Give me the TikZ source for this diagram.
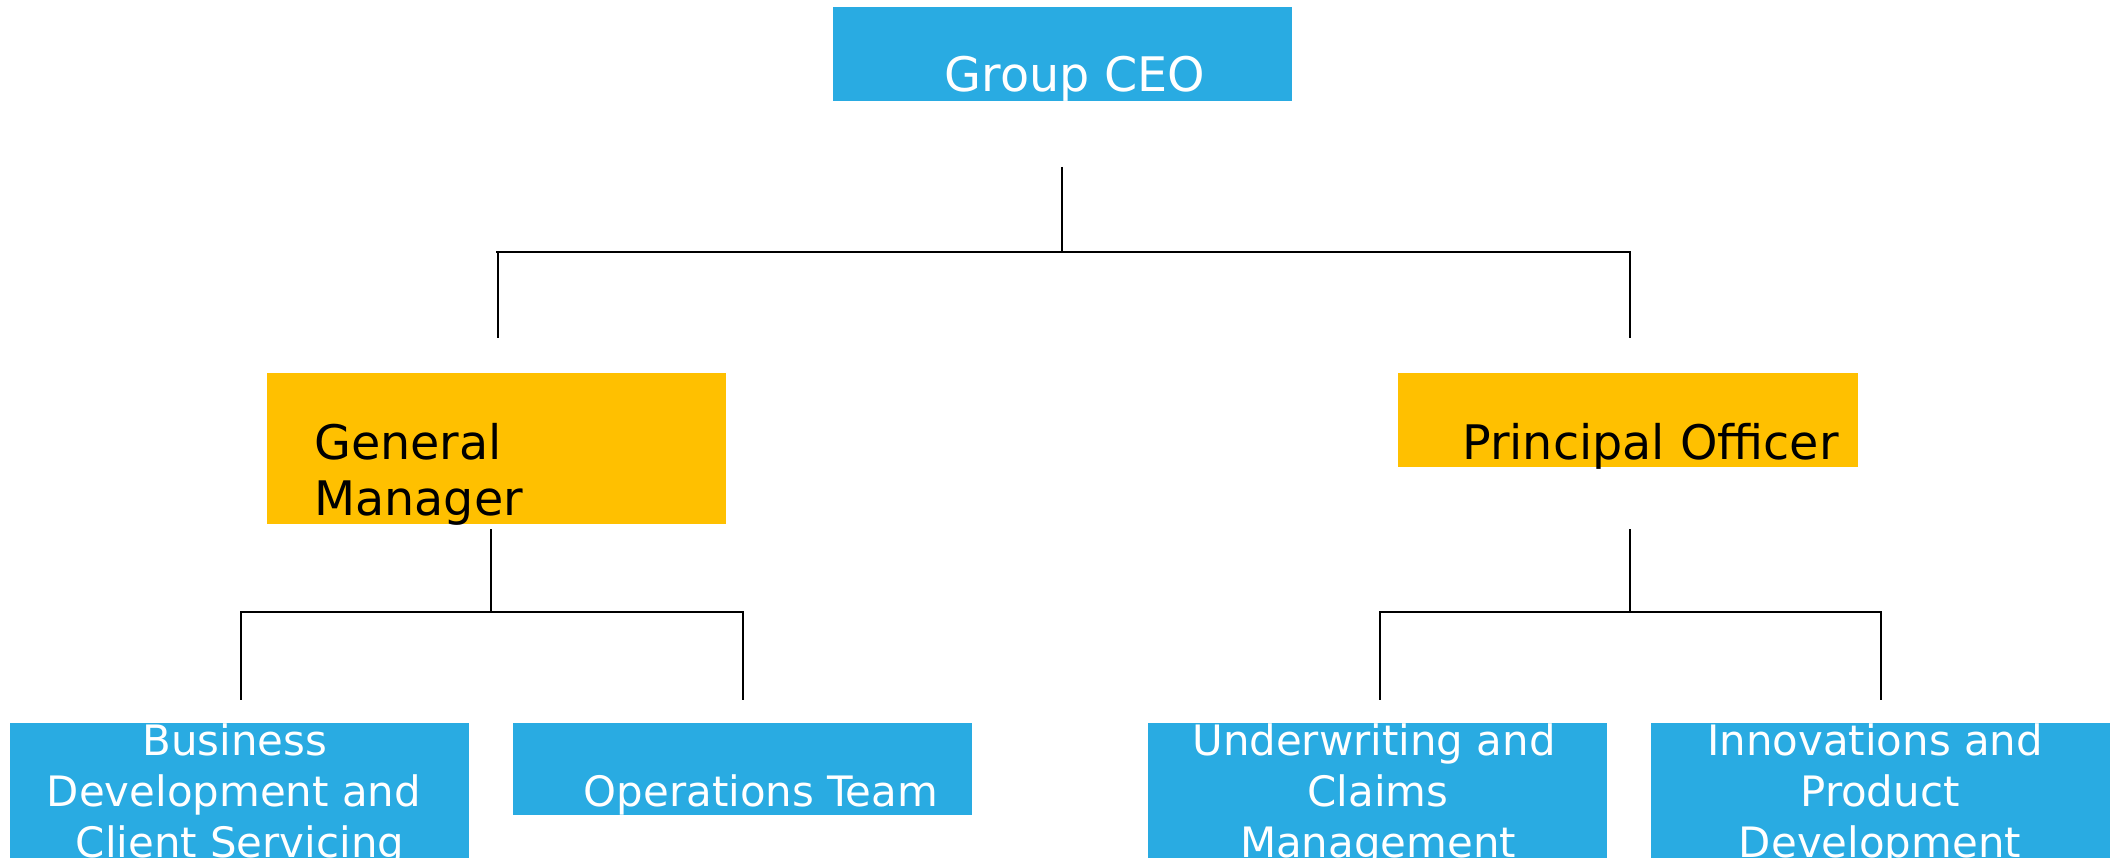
\documentclass[tikz,border=0pt]{standalone}
\usepackage{fontspec}
\setmainfont{DejaVu Sans}
\definecolor{boxblue}{HTML}{29ABE2}
\definecolor{boxgold}{HTML}{FFC000}
\begin{document}
\begin{tikzpicture}[x=1pt,y=-1pt,
  box/.style={draw=none,inner sep=0pt,outer sep=0pt,anchor=north west},
  bluebox/.style={box,fill=boxblue},
  goldbox/.style={box,fill=boxgold},
  bigtxt/.style={inner sep=0pt,anchor=base,font=\fontsize{47.6}{55}\selectfont},
  smalltxt/.style={inner sep=0pt,anchor=base,font=\fontsize{41.9}{51}\selectfont,text=white},
  conn/.style={draw=black,line width=2.7pt,line cap=butt}]
\useasboundingbox (0,0) rectangle (2110,858);
\fill[white] (0,0) rectangle (2110,858);
% boxes
\node[bluebox,minimum width=459pt,minimum height=94pt] (ceo) at (833,7) {};
\node[goldbox,minimum width=459pt,minimum height=151pt] (gm) at (267,373) {};
\node[goldbox,minimum width=460pt,minimum height=94pt] (po) at (1398,373) {};
\node[bluebox,minimum width=459pt,minimum height=160pt] (bd) at (10,723) {};
\node[bluebox,minimum width=459pt,minimum height=92pt] (ops) at (513,723) {};
\node[bluebox,minimum width=459pt,minimum height=160pt] (uw) at (1148,723) {};
\node[bluebox,minimum width=459pt,minimum height=160pt] (inn) at (1651,723) {};
% texts
\node[bigtxt,text=white] (ceot) at (1075,92) {Group CEO};
\node[bigtxt,anchor=base west] (gmt1) at (314,460) {General};
\node[bigtxt,anchor=base west] (gmt2) at (314,515) {Manager};
\node[bigtxt,anchor=base west] (pot) at (1462,459) {Principal Officer};
\node[smalltxt] (bd1) at (235,755) {Business};
\node[smalltxt] (bd2) at (234,806) {Development and};
\node[smalltxt] (bd3) at (240,857) {Client Servicing};
\node[smalltxt] (opst) at (761,806) {Operations Team};
\node[smalltxt] (uw1) at (1374,755) {Underwriting and};
\node[smalltxt] (uw2) at (1378,806) {Claims};
\node[smalltxt] (uw3) at (1378,857) {Management};
\node[smalltxt] (in1) at (1875,755) {Innovations and};
\node[smalltxt] (in2) at (1880,806) {Product};
\node[smalltxt] (in3) at (1880,857) {Development};
% connector coordinates
\coordinate (ceoS) at (1062,167);
\coordinate (ceoB) at (1062,252);
\coordinate (busL) at (496,252);
\coordinate (busR) at (1631,252);
\coordinate (gmT) at (498,338);
\coordinate (poT) at (1630,338);
\coordinate (gmS) at (491,529);
\coordinate (gmB) at (491,612);
\coordinate (gbL) at (240,612);
\coordinate (gbR) at (744,612);
\coordinate (bdT) at (241,700);
\coordinate (opsT) at (743,700);
\coordinate (poS) at (1630,529);
\coordinate (poB) at (1630,612);
\coordinate (pbL) at (1379,612);
\coordinate (pbR) at (1882,612);
\coordinate (uwT) at (1380,700);
\coordinate (inT) at (1881,700);
\draw[conn] (ceoS) -- (ceoB);
\draw[conn] (busL) -- (busR);
\draw[conn] (498,252) -- (gmT);
\draw[conn] (1630,252) -- (poT);
\draw[conn] (gmS) -- (gmB);
\draw[conn] (gbL) -- (gbR);
\draw[conn] (241,612) -- (bdT);
\draw[conn] (743,612) -- (opsT);
\draw[conn] (poS) -- (poB);
\draw[conn] (pbL) -- (pbR);
\draw[conn] (1380,612) -- (uwT);
\draw[conn] (1881,612) -- (inT);
\end{tikzpicture}
\end{document}
